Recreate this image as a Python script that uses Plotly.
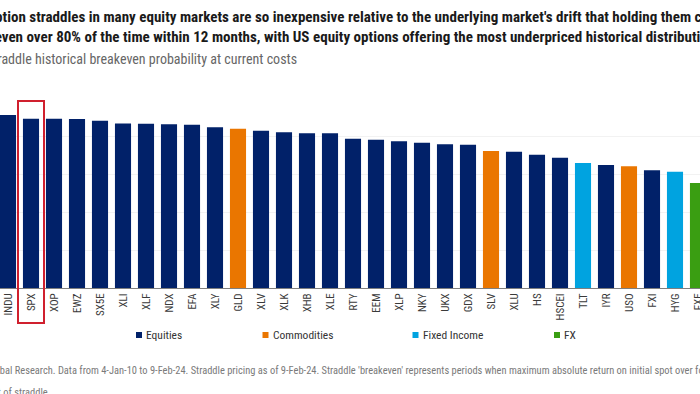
import plotly.graph_objects as go

tickers = ["INDU", "SPX", "XOP", "EWZ", "SX5E", "XLI", "XLF", "NDX", "EFA", "XLY",
           "GLD", "XLV", "XLK", "XHB", "XLE", "RTY", "EEM", "XLP", "NKY", "UKX",
           "GDX", "SLV", "XLU", "HS", "HSCEI", "TLT", "IYR", "USO", "FXI", "HYG", "FXE"]
breakeven_pct = [91.5, 89.6, 89.6, 89.4, 88.5, 87.1, 86.9, 86.6, 86.4, 85.0,
                 84.3, 83.2, 82.4, 81.9, 81.9, 79.0, 78.5, 77.6, 76.9, 76.0,
                 75.8, 72.5, 72.1, 70.5, 68.9, 66.1, 65.1, 64.4, 62.3, 61.5, 55.6]
asset_class = ["Equities"] * 10 + ["Commodities"] + ["Equities"] * 10 + \
              ["Commodities", "Equities", "Equities", "Equities", "Fixed Income",
               "Equities", "Commodities", "Equities", "Fixed Income", "FX"]
classes = ["Equities", "Commodities", "Fixed Income", "FX"]
class_colors = {"Equities": "#012169", "Commodities": "#EA7600",
                "Fixed Income": "#00A3E0", "FX": "#3A9E12"}

FONT = "Liberation Sans Narrow, Roboto Condensed, Arial Narrow, Roboto, sans-serif"

fig = go.Figure()
for c in classes:
    xs = [t for t, a in zip(tickers, asset_class) if a == c]
    ys = [v for v, a in zip(breakeven_pct, asset_class) if a == c]
    fig.add_trace(go.Bar(x=xs, y=ys, name=c, marker_color=class_colors[c],
                         marker_line_width=0, showlegend=False))

W, H = 700, 394
top_px, base_px = 99, 288
ph = base_px - top_px


def py(p):
    return (base_px - p) / ph


def px(p):
    return p / W


annotations = []
title1 = ("Option straddles in many equity markets are so inexpensive relative to the "
          "underlying market's drift that holding them could")
title2 = ("breakeven over 80% of the time within 12 months, with US equity options "
          "offering the most underpriced historical distribution")
subtitle = "Straddle historical breakeven probability at current costs"
foot1 = ("Source: BofA Global Research. Data from 4-Jan-10 to 9-Feb-24. Straddle pricing as of "
         "9-Feb-24. Straddle 'breakeven' represents periods when maximum absolute return on "
         "initial spot over forward 12 months exceeded cost")
foot2 = "cost of straddle"

annotations.append(dict(text="<b>" + title1 + "</b>", x=px(-16), y=py(17), xref="paper", yref="paper",
                        xanchor="left", yanchor="middle", showarrow=False,
                        font=dict(family=FONT, size=15.05, color="#1a1a1a")))
annotations.append(dict(text="<b>" + title2 + "</b>", x=px(-41), y=py(37), xref="paper", yref="paper",
                        xanchor="left", yanchor="middle", showarrow=False,
                        font=dict(family=FONT, size=15.05, color="#1a1a1a")))
annotations.append(dict(text=subtitle, x=px(-16), y=py(59.5), xref="paper", yref="paper",
                        xanchor="left", yanchor="middle", showarrow=False,
                        font=dict(family=FONT, size=14, color="#666666")))
annotations.append(dict(text=foot1, x=px(-72), y=py(370), xref="paper", yref="paper",
                        xanchor="left", yanchor="middle", showarrow=False,
                        font=dict(family=FONT, size=10.45, color="#7a7a7a")))
annotations.append(dict(text=foot2, x=px(-19), y=py(392), xref="paper", yref="paper",
                        xanchor="left", yanchor="middle", showarrow=False,
                        font=dict(family=FONT, size=10.45, color="#7a7a7a")))

shapes = []
legend_sq_x = [136, 262.5, 412.5, 554]
legend_txt_x = [144, 271, 421, 562]
for c, sx, tx in zip(classes, legend_sq_x, legend_txt_x):
    shapes.append(dict(type="rect", xref="paper", yref="paper",
                       x0=px(sx), x1=px(sx + 6), y0=py(338), y1=py(332),
                       fillcolor=class_colors[c], line_width=0))
    annotations.append(dict(text=c, x=px(tx), y=py(335), xref="paper", yref="paper",
                            xanchor="left", yanchor="middle", showarrow=False,
                            font=dict(family=FONT, size=11.5, color="#333333")))

# highlight box around SPX
shapes.append(dict(type="rect", xref="x", yref="paper",
                   x0=1 - 13 / 23, x1=1 + 13 / 23, y0=py(323), y1=py(101),
                   line=dict(color="#D0202E", width=2), fillcolor="rgba(0,0,0,0)"))

fig.update_layout(
    width=W, height=H,
    margin=dict(l=0, r=0, t=top_px, b=H - base_px, autoexpand=False),
    paper_bgcolor="white", plot_bgcolor="white",
    barmode="relative", bargap=0.3,
    annotations=annotations, shapes=shapes,
    xaxis=dict(type="category", categoryorder="array", categoryarray=tickers,
               range=[-8 / 23, -8 / 23 + W / 23], tickangle=-90,
               tickfont=dict(family=FONT, size=11, color="#3a3a3a"),
               showline=True, linecolor="#7f7f7f", linewidth=1, ticks="",
               showgrid=False, fixedrange=True),
    yaxis=dict(range=[0, 100], dtick=20, showgrid=True, gridcolor="#f2f2f2",
               showticklabels=False, zeroline=False, fixedrange=True),
    font=dict(family=FONT),
)

fig.write_html("out.html", config={"displayModeBar": False},
               post_script="document.body.style.margin='0';document.body.style.overflow='hidden';")
